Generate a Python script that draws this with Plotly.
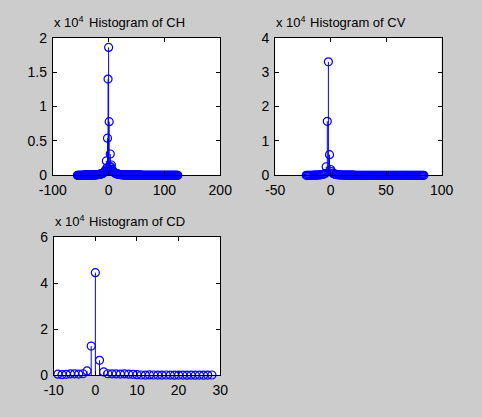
import plotly.graph_objects as go

# Histogram bin centres and counts for the three detail-coefficient matrices
ch_bins = list(range(-56, 125))
ch_counts = [
    4, 6, 5, 8, 7, 10, 9, 12, 11, 14, 13, 16, 15, 18, 20, 19, 22, 24, 23, 27,
    26, 30, 33, 31, 36, 40, 38, 44, 48, 52, 57, 62, 68, 75, 82, 90, 100, 110, 120, 135,
    150, 165, 185, 210, 240, 280,
    320, 380, 440, 520, 600, 800, 2100, 1100, 5400, 14000,
    18600, 7800, 1300, 3100, 1200, 1500, 900, 700, 600, 500,
    420, 360, 310, 270, 240, 210, 190, 170, 150, 135, 120, 110, 100, 92, 85, 78, 72, 66, 61, 57,
    53, 50, 47, 44, 41, 39, 37, 35, 33, 31, 30, 28, 27, 26, 25, 24, 23, 22, 21, 20,
    20, 19, 18, 18, 17, 16, 16, 15, 15, 14, 14, 13, 13, 12, 12, 12, 11, 11, 10, 10,
    10, 9, 9, 9, 8, 8, 8, 8, 7, 7, 7, 7, 6, 6, 6, 6, 6, 5, 5, 5,
    5, 5, 4, 4, 4, 4, 4, 4, 3, 3, 3, 3, 3, 3, 3, 3, 3, 2, 2, 2,
    3, 2, 2, 2, 2, 2, 2, 1, 2, 1, 1, 1, 1, 1, 1,
]

cv_bins = list(range(-22, 85))
cv_counts = [
    6, 8, 10, 13, 16, 20, 26, 34, 44, 58, 75, 98, 130, 170, 220, 290, 380, 500,
    2500, 15700, 33000, 6000, 1700, 1100, 600, 450, 340, 260, 200, 160,
    130, 110, 95, 82, 72, 64, 57, 51, 46, 42, 38, 35, 32, 30, 28, 26, 24, 22, 21, 20,
    19, 18, 17, 16, 15, 14, 14, 13, 12, 12, 11, 11, 10, 10, 9, 9, 9, 8, 8, 8,
    7, 7, 7, 7, 6, 6, 6, 6, 5, 5, 5, 5, 5, 4, 4, 4, 4, 4, 4, 3,
    3, 3, 3, 3, 3, 3, 3, 2, 2, 2, 2, 2, 2, 2, 1, 1, 1,
]

cd_bins = list(range(-9, 29))
cd_counts = [
    500, 350, 450, 600, 650, 550, 700, 1900, 12700, 44500,
    6500, 1500, 700, 650, 600, 550, 600, 500, 450, 300,
    150, 120, 200, 150, 100, 120, 150, 100, 80, 120,
    100, 90, 110, 80, 100, 90, 120, 150,
]

panels = [
    dict(name="CH", bins=ch_bins, counts=ch_counts,
         xr=[-100, 200], xt=[-100, 0, 100, 200], xtext=["-100", "0", "100", "200"],
         yr=[0, 20000], yt=[0, 5000, 10000, 15000, 20000],
         ytext=["0", "0.5", "1", "1.5", "2"]),
    dict(name="CV", bins=cv_bins, counts=cv_counts,
         xr=[-50, 100], xt=[-50, 0, 50, 100], xtext=["-50", "0", "50", "100"],
         yr=[0, 40000], yt=[0, 10000, 20000, 30000, 40000],
         ytext=["0", "1", "2", "3", "4"]),
    dict(name="CD", bins=cd_bins, counts=cd_counts,
         xr=[-10, 30], xt=[-10, 0, 10, 20, 30], xtext=["-10", "0", "10", "20", "30"],
         yr=[0, 60000], yt=[0, 20000, 40000, 60000],
         ytext=["0", "2", "4", "6"]),
]

W, H = 482, 417
# axes boxes in pixels: (left, right, top, bottom)
boxes = [(41, 218, 31, 174), (276, 452, 31, 174), (42, 218, 238, 382)]

BLUE = "#0000ff"
FONT = "Liberation Sans"

fig = go.Figure()
annotations = []
for i, (p, (l, r, t, b)) in enumerate(zip(panels, boxes), start=1):
    xa = "x" if i == 1 else f"x{i}"
    ya = "y" if i == 1 else f"y{i}"

    # stems: one segment per bin from the baseline up to the count
    sx, sy = [], []
    for xv, yv in zip(p["bins"], p["counts"]):
        sx += [xv, xv, None]
        sy += [0, yv, None]
    fig.add_trace(go.Scatter(x=sx, y=sy, mode="lines", xaxis=xa, yaxis=ya,
                             line=dict(color=BLUE, width=1), hoverinfo="skip",
                             showlegend=False, cliponaxis=False))
    fig.add_trace(go.Scatter(x=p["bins"], y=p["counts"], mode="markers",
                             xaxis=xa, yaxis=ya, cliponaxis=False, showlegend=False,
                             marker=dict(symbol="circle-open", size=8,
                                         color=BLUE, line=dict(width=1.2, color=BLUE))))

    xdom = [l / W, r / W]
    ydom = [1 - b / H, 1 - t / H]
    axis_common = dict(showline=True, linecolor="black", linewidth=1, mirror="ticks",
                       ticks="inside", ticklen=4, tickcolor="black", showgrid=False,
                       zeroline=False, tickfont=dict(family=FONT, size=14, color="black"))
    xkey = "xaxis" if i == 1 else f"xaxis{i}"
    ykey = "yaxis" if i == 1 else f"yaxis{i}"
    fig.update_layout(**{
        xkey: dict(domain=xdom, range=p["xr"], tickvals=p["xt"], ticktext=p["xtext"],
                   anchor=ya, ticklabelstandoff=2, **axis_common),
        ykey: dict(domain=ydom, range=p["yr"], tickvals=p["yt"], ticktext=p["ytext"],
                   anchor=xa, ticklabelstandoff=2, **axis_common),
    })

    annotations.append(dict(text=f"Histogram of {p['name']}", xref="paper", yref="paper",
                            x=(xdom[0] + xdom[1]) / 2, y=1 - (t - 16) / H,
                            xanchor="center", yanchor="middle", showarrow=False,
                            font=dict(family=FONT, size=13, color="black")))
    annotations.append(dict(text="x 10<sup>4</sup>", xref="paper", yref="paper",
                            x=xdom[0], y=1 - (t - 7) / H, xanchor="left", yanchor="bottom",
                            showarrow=False, borderpad=0,
                            font=dict(family=FONT, size=13, color="black")))

fig.update_layout(width=W, height=H, margin=dict(l=0, r=0, t=0, b=0),
                  paper_bgcolor="#cccccc", plot_bgcolor="white",
                  annotations=annotations, showlegend=False)

fig.write_html("out.html")
